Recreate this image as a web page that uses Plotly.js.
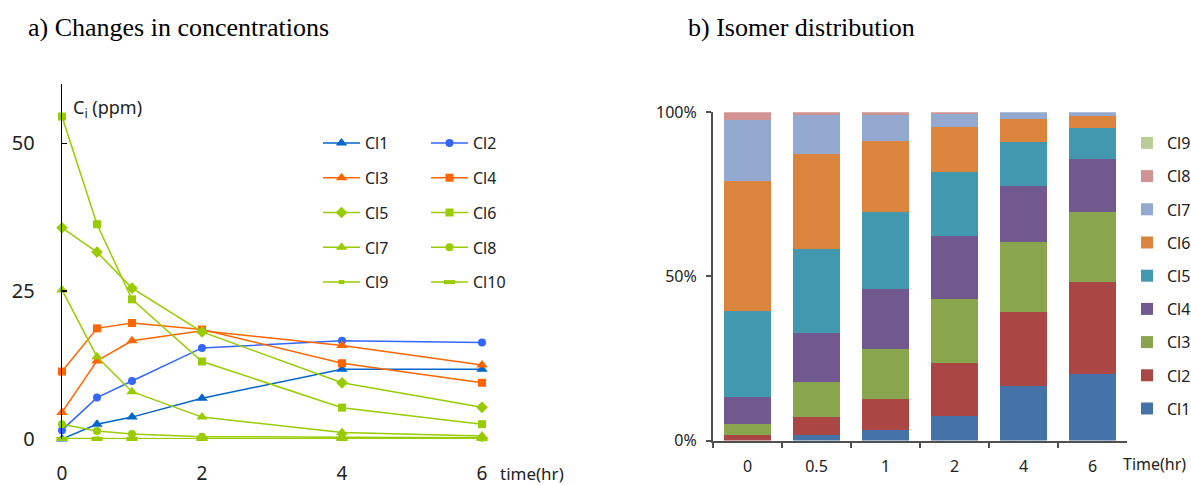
<!DOCTYPE html>
<html>
<head>
<meta charset="utf-8">
<script src="https://cdn.plot.ly/plotly-3.0.1.min.js"></script>
<style>html,body{margin:0;padding:0;background:#fff;}</style>
</head>
<body>
<div id="chart" style="width:1191px;height:485px;"></div>
<script>
// ---- Left chart: concentrations (ppm) vs time (hr)
const time = [0, 0.5, 1, 2, 4, 6];
const Cl1 = [0, 2.5, 3.7, 6.9, 11.8, 11.8];
const Cl2 = [1.5, 7.0, 9.8, 15.4, 16.6, 16.3];
const Cl3 = [4.5, 13.2, 16.6, 18.3, 15.8, 12.5];
const Cl4 = [11.4, 18.7, 19.6, 18.5, 12.8, 9.5];
const Cl5 = [35.7, 31.6, 25.5, 18.1, 9.5, 5.35];
const Cl6 = [54.5, 36.3, 23.6, 13.1, 5.3, 2.5];
const Cl7 = [25.2, 13.9, 8.0, 3.7, 1.1, 0.5];
const Cl8 = [2.5, 1.35, 0.85, 0.4, 0.3, 0.2];
const Cl9 = [0.1, 0.1, 0.05, 0.05, 0, 0];
const Cl10 = [0, 0, 0, 0, 0, 0];

// ---- Right chart: isomer distribution (%)
const timeCats = ["0", "0.5", "1", "2", "4", "6"];
const pCl1 = [0, 1.7, 3.3, 7.5, 16.7, 20.4];
const pCl2 = [1.6, 5.6, 9.2, 16.1, 22.5, 28.0];
const pCl3 = [3.3, 10.6, 15.5, 19.5, 21.2, 21.2];
const pCl4 = [8.3, 15.0, 18.2, 19.3, 17.2, 16.1];
const pCl5 = [26.3, 25.5, 23.3, 19.4, 13.4, 9.4];
const pCl6 = [39.6, 28.9, 21.8, 13.8, 7.1, 3.9];
const pCl7 = [18.6, 11.9, 7.9, 3.9, 1.9, 1.0];
const pCl8 = [2.3, 0.8, 0.8, 0.5, 0, 0];
const pCl9 = [0, 0, 0, 0, 0, 0];

const blue1 = '#0066CC', blue2 = '#3366FF', orange = '#FF6600', green = '#99CC00';

function line(name, y, color, symbol, size, legend, extra) {
  const t = {
    type: 'scatter', mode: 'lines+markers', name: name, x: time, y: y,
    xaxis: 'x', yaxis: 'y', cliponaxis: false,
    line: {color: color, width: 1.5},
    marker: {symbol: symbol, size: size, color: color, line: {color: color, width: 0}},
    legend: legend, legendgroup: name
  };
  if (extra) Object.assign(t.marker, extra);
  return t;
}

const traces = [
  line('Cl1', Cl1, blue1, 'triangle-up', 10, 'legend'),
  line('Cl2', Cl2, blue2, 'circle', 8, 'legend2'),
  line('Cl3', Cl3, orange, 'triangle-up', 10, 'legend'),
  line('Cl4', Cl4, orange, 'square', 8, 'legend2'),
  line('Cl5', Cl5, green, 'diamond', 9, 'legend'),
  line('Cl6', Cl6, green, 'square', 8, 'legend2'),
  line('Cl7', Cl7, green, 'triangle-up', 10, 'legend'),
  line('Cl8', Cl8, green, 'circle', 8, 'legend2'),
  line('Cl9', Cl9, green, 'line-ew', 4, 'legend', {line: {color: green, width: 4}}),
  line('Cl10', Cl10, green, 'line-ew', 8, 'legend2', {line: {color: green, width: 4}})
];

const barColors = ['#4572A7', '#AA4643', '#89A54E', '#71588F', '#4198AF', '#DB843D', '#93A9CF', '#D19392', '#B9CD96'];
const barData = [pCl1, pCl2, pCl3, pCl4, pCl5, pCl6, pCl7, pCl8, pCl9];
barData.forEach((d, i) => {
  traces.push({
    type: 'bar', name: 'Cl' + (i + 1), x: timeCats, y: d,
    xaxis: 'x2', yaxis: 'y2', marker: {color: barColors[i], line: {width: 0}},
    legend: 'legend3', legendgroup: 'b' + (i + 1), legendrank: 100 - i
  });
});

const fontSans = 'Noto Sans, Open Sans, sans-serif';
const legendCommon = {
  font: {family: fontSans, size: 16, color: '#222'},
  bgcolor: 'rgba(0,0,0,0)', borderwidth: 0,
  xanchor: 'left', yanchor: 'top', itemwidth: 37,
  traceorder: 'grouped', tracegroupgap: 11, itemclick: false
};

const layout = {
  width: 1191, height: 485, autosize: false,
  margin: {l: 0, r: 0, t: 0, b: 0, autoexpand: false},
  paper_bgcolor: '#fff', plot_bgcolor: 'rgba(0,0,0,0)',
  showlegend: true, barmode: 'stack', bargap: 0.333,
  font: {family: fontSans, color: '#222'},
  xaxis: {
    anchor: 'y',
    domain: [62 / 1191, 573 / 1191], range: [0, 7.3],
    tickvals: [0, 2, 4, 6], ticktext: ['0', '2', '4', '6'],
    showline: false, showgrid: false, zeroline: false, ticks: '',
    tickfont: {family: fontSans, size: 19, color: '#222'}, ticklabelstandoff: 21
  },
  yaxis: {
    anchor: 'x',
    domain: [46 / 485, 401 / 485], range: [0, 60],
    tickvals: [0, 25, 50], ticktext: ['0', '25', '50'],
    showline: true, linecolor: '#000', linewidth: 1.3, showgrid: false, zeroline: false,
    ticks: 'inside', ticklen: 5, tickcolor: '#000', tickwidth: 1.3,
    tickfont: {family: fontSans, size: 20, color: '#222'}, ticklabelstandoff: 22
  },
  xaxis2: {
    anchor: 'y2',
    domain: [713 / 1191, 1127 / 1191], type: 'category',
    showline: true, linecolor: '#505050', linewidth: 2, showgrid: false, zeroline: false,
    ticks: 'outside', tickson: 'boundaries', ticklen: 5, tickwidth: 2, tickcolor: '#505050',
    tickfont: {family: fontSans, size: 16, color: '#222'}, ticklabelstandoff: 10
  },
  yaxis2: {
    anchor: 'x2',
    domain: [44.5 / 485, 372.7 / 485], range: [0, 100],
    tickvals: [0, 50, 100], ticktext: ['0%', '50%', '100%'],
    showline: true, linecolor: '#505050', linewidth: 2, showgrid: false, zeroline: false,
    ticks: 'outside', ticklen: 5, tickwidth: 2, tickcolor: '#505050',
    tickfont: {family: fontSans, size: 16, color: '#222'}, ticklabelstandoff: 6
  },
  legend: Object.assign({}, legendCommon, {x: 318 / 1191, y: (485 - 126) / 485, tracegroupgap: 11}),
  legend2: Object.assign({}, legendCommon, {x: 426 / 1191, y: (485 - 126) / 485, tracegroupgap: 11}),
  legend3: Object.assign({}, legendCommon, {x: 1127 / 1191, y: (485 - 126) / 485, itemwidth: 30, traceorder: 'grouped', tracegroupgap: 9.4}),
  annotations: [
    {text: 'a) Changes in concentrations', xref: 'paper', yref: 'paper', x: 26 / 1191, y: (485 - 27) / 485,
     xanchor: 'left', yanchor: 'middle', showarrow: false, font: {family: 'Liberation Serif, Times New Roman, serif', size: 26, color: '#000'}},
    {text: 'b) Isomer distribution', xref: 'paper', yref: 'paper', x: 686 / 1191, y: (485 - 27) / 485,
     xanchor: 'left', yanchor: 'middle', showarrow: false, font: {family: 'Liberation Serif, Times New Roman, serif', size: 26, color: '#000'}},
    {text: 'C<sub>i</sub> (ppm)', xref: 'paper', yref: 'paper', x: 71 / 1191, y: (485 - 108) / 485,
     xanchor: 'left', yanchor: 'middle', showarrow: false, font: {family: fontSans, size: 18, color: '#222'}},
    {text: 'time(hr)', xref: 'paper', yref: 'paper', x: 498 / 1191, y: (485 - 473) / 485,
     xanchor: 'left', yanchor: 'middle', showarrow: false, font: {family: fontSans, size: 17, color: '#222'}},
    {text: 'Time(hr)', xref: 'paper', yref: 'paper', x: 1121 / 1191, y: (485 - 464) / 485,
     xanchor: 'left', yanchor: 'middle', showarrow: false, font: {family: fontSans, size: 16, color: '#222'}}
  ]
};

Plotly.newPlot('chart', traces, layout, {displayModeBar: false, staticPlot: true});
</script>
</body>
</html>
